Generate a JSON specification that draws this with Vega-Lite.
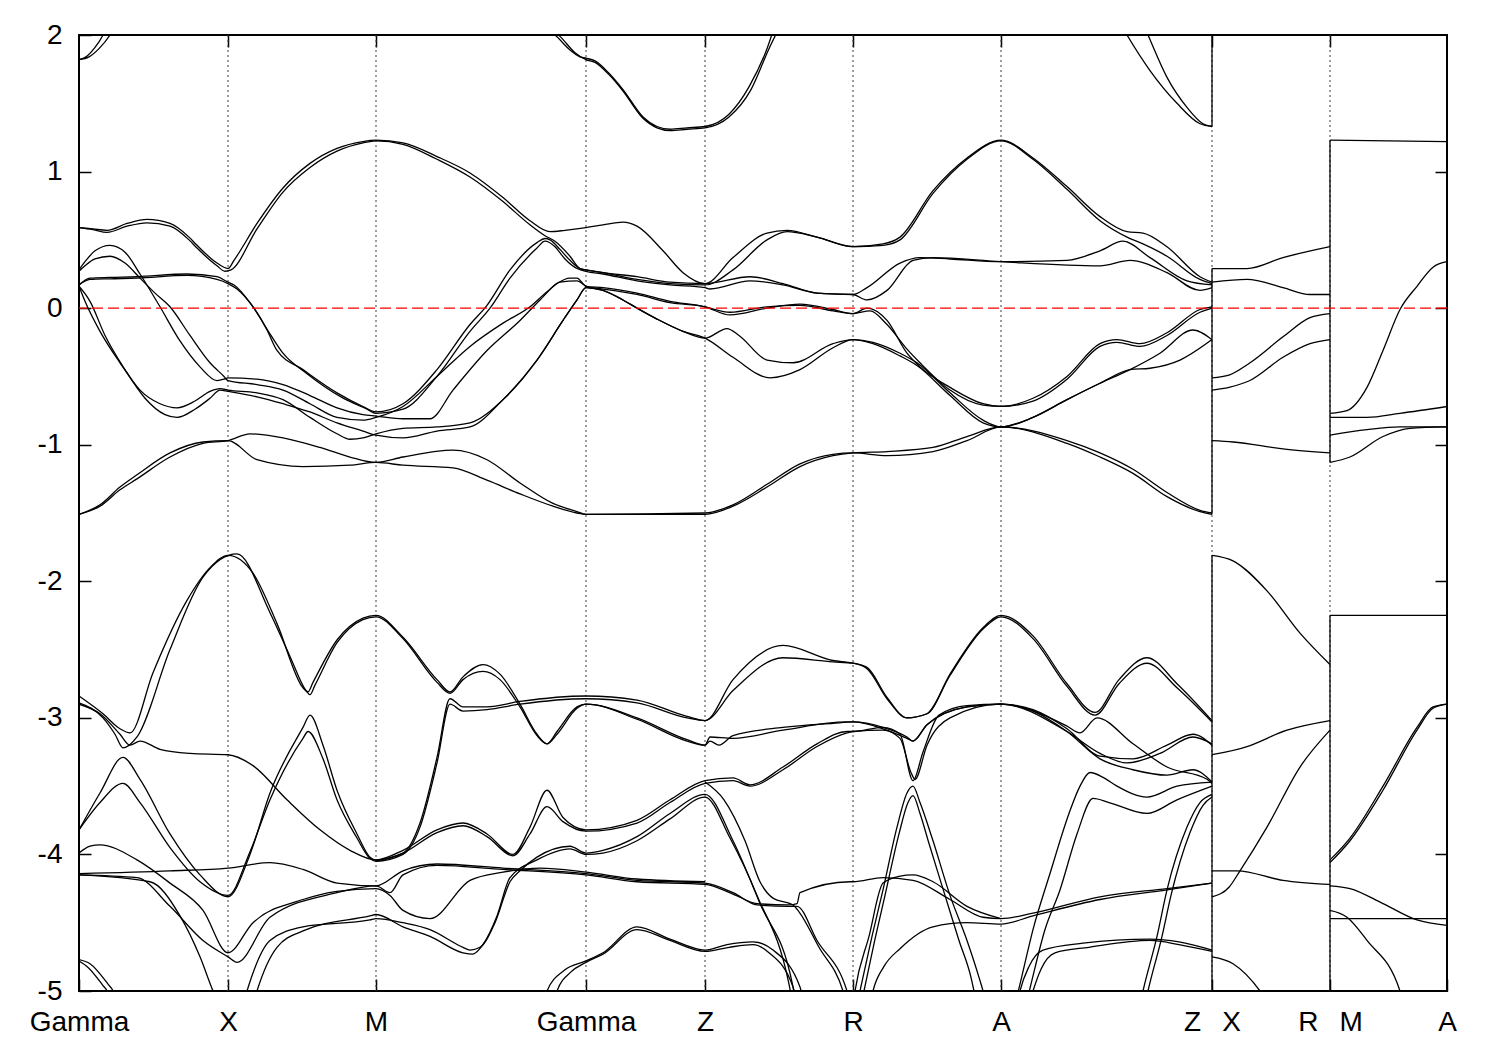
{
"$schema":"https://vega.github.io/schema/vega-lite/v6.json",
"width":1368,"height":956,"autosize":"none",
"padding":{"left":79,"top":35,"right":53,"bottom":59},
"config":{"font":"Liberation Sans","view":{"stroke":"black","strokeWidth":2}},
"datasets":{
"sym":[{"k":1.49},{"k":2.97},{"k":5.07},{"k":6.26},{"k":7.74},{"k":9.22},{"k":11.33},{"k":12.51}],
"jumps":[{"k":11.33,"y":2,"y2":1.33},{"k":11.33,"y":0.29,"y2":-1.51},{"k":11.33,"y":-1.81,"y2":-5},{"k":12.51,"y":1.23,"y2":-1.13},{"k":12.51,"y":-2.25,"y2":-5}],
"bands":[
{"b":"u1a","k":0,"e":1.82},{"b":"u1a","k":0.07,"e":1.84},{"b":"u1a","k":0.15,"e":1.9},{"b":"u1a","k":0.24,"e":2.0},{"b":"u1a","k":0.27,"e":2.05},
{"b":"u1b","k":0,"e":1.82},{"b":"u1b","k":0.1,"e":1.84},{"b":"u1b","k":0.2,"e":1.9},{"b":"u1b","k":0.31,"e":2.0},{"b":"u1b","k":0.35,"e":2.05},
{"b":"u2a","k":4.66,"e":2.05},{"b":"u2a","k":4.76,"e":2.0},{"b":"u2a","k":4.91,"e":1.89},{"b":"u2a","k":5.01,"e":1.84},{"b":"u2a","k":5.07,"e":1.83},{"b":"u2a","k":5.16,"e":1.81},{"b":"u2a","k":5.3,"e":1.72},{"b":"u2a","k":5.44,"e":1.6},{"b":"u2a","k":5.64,"e":1.4},{"b":"u2a","k":5.78,"e":1.33},{"b":"u2a","k":5.91,"e":1.31},{"b":"u2a","k":6.08,"e":1.32},{"b":"u2a","k":6.26,"e":1.33},{"b":"u2a","k":6.5,"e":1.42},{"b":"u2a","k":6.7,"e":1.62},{"b":"u2a","k":6.88,"e":1.9},{"b":"u2a","k":6.95,"e":2.05},
{"b":"u2b","k":4.71,"e":2.05},{"b":"u2b","k":4.81,"e":1.99},{"b":"u2b","k":4.96,"e":1.87},{"b":"u2b","k":5.07,"e":1.82},{"b":"u2b","k":5.16,"e":1.8},{"b":"u2b","k":5.3,"e":1.71},{"b":"u2b","k":5.44,"e":1.59},{"b":"u2b","k":5.64,"e":1.39},{"b":"u2b","k":5.78,"e":1.32},{"b":"u2b","k":5.91,"e":1.3},{"b":"u2b","k":6.08,"e":1.31},{"b":"u2b","k":6.26,"e":1.32},{"b":"u2b","k":6.5,"e":1.4},{"b":"u2b","k":6.72,"e":1.6},{"b":"u2b","k":6.9,"e":1.9},{"b":"u2b","k":7.0,"e":2.05},
{"b":"u3a","k":10.44,"e":2.05},{"b":"u3a","k":10.48,"e":2.0},{"b":"u3a","k":10.71,"e":1.74},{"b":"u3a","k":10.98,"e":1.5},{"b":"u3a","k":11.21,"e":1.35},{"b":"u3a","k":11.33,"e":1.33},
{"b":"u3b","k":10.66,"e":2.05},{"b":"u3b","k":10.69,"e":2.0},{"b":"u3b","k":10.88,"e":1.69},{"b":"u3b","k":11.08,"e":1.47},{"b":"u3b","k":11.24,"e":1.35},{"b":"u3b","k":11.33,"e":1.33},
{"b":"u4a","k":0,"e":0.59},{"b":"u4a","k":0.14,"e":0.58},{"b":"u4a","k":0.28,"e":0.57},{"b":"u4a","k":0.48,"e":0.62},{"b":"u4a","k":0.68,"e":0.65},{"b":"u4a","k":0.91,"e":0.62},{"b":"u4a","k":1.1,"e":0.52},{"b":"u4a","k":1.18,"e":0.46},{"b":"u4a","k":1.38,"e":0.33},{"b":"u4a","k":1.49,"e":0.29},{"b":"u4a","k":1.55,"e":0.35},{"b":"u4a","k":1.78,"e":0.62},{"b":"u4a","k":2.04,"e":0.88},{"b":"u4a","k":2.31,"e":1.06},{"b":"u4a","k":2.58,"e":1.17},{"b":"u4a","k":2.84,"e":1.22},{"b":"u4a","k":2.97,"e":1.23},{"b":"u4a","k":3.24,"e":1.21},{"b":"u4a","k":3.58,"e":1.11},{"b":"u4a","k":3.91,"e":0.99},{"b":"u4a","k":4.24,"e":0.81},{"b":"u4a","k":4.51,"e":0.64},{"b":"u4a","k":4.71,"e":0.56},{"b":"u4a","k":4.86,"e":0.57},{"b":"u4a","k":5.07,"e":0.59},{"b":"u4a","k":5.24,"e":0.61},{"b":"u4a","k":5.44,"e":0.63},{"b":"u4a","k":5.58,"e":0.6},{"b":"u4a","k":5.84,"e":0.42},{"b":"u4a","k":6.04,"e":0.26},{"b":"u4a","k":6.26,"e":0.18},{"b":"u4a","k":6.54,"e":0.37},{"b":"u4a","k":6.88,"e":0.55},{"b":"u4a","k":7.08,"e":0.57},{"b":"u4a","k":7.38,"e":0.52},{"b":"u4a","k":7.74,"e":0.45},{"b":"u4a","k":8.04,"e":0.47},{"b":"u4a","k":8.21,"e":0.52},{"b":"u4a","k":8.54,"e":0.86},{"b":"u4a","k":8.88,"e":1.1},{"b":"u4a","k":9.22,"e":1.23},{"b":"u4a","k":9.54,"e":1.1},{"b":"u4a","k":9.88,"e":0.89},{"b":"u4a","k":10.21,"e":0.67},{"b":"u4a","k":10.48,"e":0.56},{"b":"u4a","k":10.64,"e":0.55},{"b":"u4a","k":10.88,"e":0.45},{"b":"u4a","k":11.21,"e":0.23},{"b":"u4a","k":11.33,"e":0.19},
{"b":"u4b","k":0,"e":0.59},{"b":"u4b","k":0.14,"e":0.575},{"b":"u4b","k":0.28,"e":0.555},{"b":"u4b","k":0.48,"e":0.6},{"b":"u4b","k":0.68,"e":0.625},{"b":"u4b","k":0.91,"e":0.6},{"b":"u4b","k":1.1,"e":0.5},{"b":"u4b","k":1.18,"e":0.44},{"b":"u4b","k":1.38,"e":0.31},{"b":"u4b","k":1.46,"e":0.27},{"b":"u4b","k":1.52,"e":0.28},{"b":"u4b","k":1.78,"e":0.58},{"b":"u4b","k":2.04,"e":0.85},{"b":"u4b","k":2.31,"e":1.03},{"b":"u4b","k":2.58,"e":1.15},{"b":"u4b","k":2.84,"e":1.21},{"b":"u4b","k":2.97,"e":1.225},{"b":"u4b","k":3.24,"e":1.2},{"b":"u4b","k":3.58,"e":1.09},{"b":"u4b","k":3.91,"e":0.96},{"b":"u4b","k":4.24,"e":0.78},{"b":"u4b","k":4.51,"e":0.61},{"b":"u4b","k":4.66,"e":0.53},{"b":"u4b","k":4.76,"e":0.49},{"b":"u4b","k":4.91,"e":0.38},{"b":"u4b","k":5.01,"e":0.29},{"b":"u4b","k":5.07,"e":0.28},{"b":"u4b","k":5.24,"e":0.26},{"b":"u4b","k":5.58,"e":0.21},{"b":"u4b","k":5.91,"e":0.18},{"b":"u4b","k":6.26,"e":0.17},{"b":"u4b","k":6.54,"e":0.28},{"b":"u4b","k":6.88,"e":0.5},{"b":"u4b","k":7.08,"e":0.56},{"b":"u4b","k":7.38,"e":0.52},{"b":"u4b","k":7.74,"e":0.45},{"b":"u4b","k":8.04,"e":0.46},{"b":"u4b","k":8.21,"e":0.5},{"b":"u4b","k":8.54,"e":0.84},{"b":"u4b","k":8.88,"e":1.09},{"b":"u4b","k":9.22,"e":1.225},{"b":"u4b","k":9.54,"e":1.09},{"b":"u4b","k":9.88,"e":0.87},{"b":"u4b","k":10.21,"e":0.64},{"b":"u4b","k":10.48,"e":0.52},{"b":"u4b","k":10.64,"e":0.47},{"b":"u4b","k":10.88,"e":0.38},{"b":"u4b","k":11.21,"e":0.21},{"b":"u4b","k":11.33,"e":0.18},
{"b":"D1","k":0,"e":0.17},{"b":"D1","k":0.11,"e":0.22},{"b":"D1","k":0.31,"e":0.225},{"b":"D1","k":0.58,"e":0.23},{"b":"D1","k":1.08,"e":0.25},{"b":"D1","k":1.38,"e":0.23},{"b":"D1","k":1.49,"e":0.19},{"b":"D1","k":1.55,"e":0.17},{"b":"D1","k":1.71,"e":0.04},{"b":"D1","k":1.88,"e":-0.16},{"b":"D1","k":1.98,"e":-0.31},{"b":"D1","k":2.24,"e":-0.45},{"b":"D1","k":2.58,"e":-0.62},{"b":"D1","k":2.84,"e":-0.72},{"b":"D1","k":2.97,"e":-0.76},{"b":"D1","k":3.24,"e":-0.7},{"b":"D1","k":3.58,"e":-0.45},{"b":"D1","k":3.91,"e":-0.12},{"b":"D1","k":4.08,"e":0.02},{"b":"D1","k":4.31,"e":0.28},{"b":"D1","k":4.58,"e":0.48},{"b":"D1","k":4.66,"e":0.51},{"b":"D1","k":4.71,"e":0.5},{"b":"D1","k":4.81,"e":0.43},{"b":"D1","k":4.91,"e":0.35},{"b":"D1","k":5.01,"e":0.29},{"b":"D1","k":5.07,"e":0.28},{"b":"D1","k":5.24,"e":0.26},{"b":"D1","k":5.58,"e":0.23},{"b":"D1","k":5.91,"e":0.19},{"b":"D1","k":6.26,"e":0.18},{"b":"D1","k":6.71,"e":0.23},{"b":"D1","k":7.04,"e":0.18},{"b":"D1","k":7.38,"e":0.11},{"b":"D1","k":7.74,"e":0.1},{"b":"D1","k":7.88,"e":0.15},{"b":"D1","k":8.21,"e":0.33},{"b":"D1","k":8.41,"e":0.37},{"b":"D1","k":8.71,"e":0.36},{"b":"D1","k":9.22,"e":0.34},{"b":"D1","k":9.88,"e":0.35},{"b":"D1","k":10.21,"e":0.42},{"b":"D1","k":10.44,"e":0.49},{"b":"D1","k":10.71,"e":0.37},{"b":"D1","k":11.08,"e":0.2},{"b":"D1","k":11.33,"e":0.17},
{"b":"D2","k":0,"e":0.17},{"b":"D2","k":0.11,"e":0.21},{"b":"D2","k":0.31,"e":0.215},{"b":"D2","k":0.58,"e":0.22},{"b":"D2","k":1.08,"e":0.24},{"b":"D2","k":1.38,"e":0.21},{"b":"D2","k":1.49,"e":0.18},{"b":"D2","k":1.58,"e":0.14},{"b":"D2","k":1.75,"e":0.0},{"b":"D2","k":1.92,"e":-0.2},{"b":"D2","k":2.04,"e":-0.33},{"b":"D2","k":2.28,"e":-0.48},{"b":"D2","k":2.62,"e":-0.65},{"b":"D2","k":2.88,"e":-0.74},{"b":"D2","k":2.97,"e":-0.77},{"b":"D2","k":3.24,"e":-0.74},{"b":"D2","k":3.58,"e":-0.5},{"b":"D2","k":3.91,"e":-0.17},{"b":"D2","k":4.11,"e":0.0},{"b":"D2","k":4.31,"e":0.22},{"b":"D2","k":4.58,"e":0.44},{"b":"D2","k":4.66,"e":0.49},{"b":"D2","k":4.76,"e":0.45},{"b":"D2","k":4.86,"e":0.36},{"b":"D2","k":4.98,"e":0.29},{"b":"D2","k":5.07,"e":0.27},{"b":"D2","k":5.24,"e":0.25},{"b":"D2","k":5.58,"e":0.2},{"b":"D2","k":5.91,"e":0.17},{"b":"D2","k":6.26,"e":0.15},{"b":"D2","k":6.31,"e":0.14},{"b":"D2","k":6.71,"e":0.2},{"b":"D2","k":7.04,"e":0.17},{"b":"D2","k":7.38,"e":0.11},{"b":"D2","k":7.74,"e":0.1},{"b":"D2","k":7.88,"e":0.06},{"b":"D2","k":8.08,"e":0.13},{"b":"D2","k":8.34,"e":0.35},{"b":"D2","k":8.54,"e":0.37},{"b":"D2","k":9.22,"e":0.34},{"b":"D2","k":10.21,"e":0.31},{"b":"D2","k":10.51,"e":0.35},{"b":"D2","k":10.88,"e":0.26},{"b":"D2","k":11.21,"e":0.13},{"b":"D2","k":11.33,"e":0.15},
{"b":"B1","k":0,"e":0.28},{"b":"B1","k":0.06,"e":0.34},{"b":"B1","k":0.16,"e":0.42},{"b":"B1","k":0.31,"e":0.46},{"b":"B1","k":0.46,"e":0.41},{"b":"B1","k":0.61,"e":0.25},{"b":"B1","k":0.81,"e":0.01},{"b":"B1","k":1.01,"e":-0.24},{"b":"B1","k":1.21,"e":-0.43},{"b":"B1","k":1.38,"e":-0.53},{"b":"B1","k":1.45,"e":-0.52},{"b":"B1","k":1.49,"e":-0.51},{"b":"B1","k":1.78,"e":-0.52},{"b":"B1","k":2.04,"e":-0.56},{"b":"B1","k":2.31,"e":-0.64},{"b":"B1","k":2.58,"e":-0.73},{"b":"B1","k":2.84,"e":-0.78},{"b":"B1","k":2.97,"e":-0.79},{"b":"B1","k":3.24,"e":-0.81},{"b":"B1","k":3.51,"e":-0.81},{"b":"B1","k":3.74,"e":-0.6},{"b":"B1","k":4.08,"e":-0.31},{"b":"B1","k":4.41,"e":-0.09},{"b":"B1","k":4.61,"e":0.06},{"b":"B1","k":4.78,"e":0.18},{"b":"B1","k":4.91,"e":0.22},{"b":"B1","k":4.98,"e":0.22},{"b":"B1","k":5.07,"e":0.16},{"b":"B1","k":5.24,"e":0.15},{"b":"B1","k":5.58,"e":0.11},{"b":"B1","k":5.91,"e":0.05},{"b":"B1","k":6.26,"e":0.01},{"b":"B1","k":6.51,"e":-0.05},{"b":"B1","k":6.88,"e":0.0},{"b":"B1","k":7.21,"e":0.03},{"b":"B1","k":7.54,"e":-0.01},{"b":"B1","k":7.74,"e":-0.04},{"b":"B1","k":7.88,"e":0.0},{"b":"B1","k":8.08,"e":-0.09},{"b":"B1","k":8.28,"e":-0.33},{"b":"B1","k":8.41,"e":-0.43},{"b":"B1","k":8.71,"e":-0.58},{"b":"B1","k":9.04,"e":-0.7},{"b":"B1","k":9.22,"e":-0.72},{"b":"B1","k":9.54,"e":-0.66},{"b":"B1","k":9.88,"e":-0.5},{"b":"B1","k":10.21,"e":-0.26},{"b":"B1","k":10.38,"e":-0.23},{"b":"B1","k":10.61,"e":-0.26},{"b":"B1","k":10.88,"e":-0.18},{"b":"B1","k":11.21,"e":-0.01},{"b":"B1","k":11.33,"e":0.01},
{"b":"B2","k":0,"e":0.27},{"b":"B2","k":0.06,"e":0.31},{"b":"B2","k":0.16,"e":0.36},{"b":"B2","k":0.31,"e":0.38},{"b":"B2","k":0.46,"e":0.33},{"b":"B2","k":0.61,"e":0.22},{"b":"B2","k":0.76,"e":0.11},{"b":"B2","k":0.91,"e":0.01},{"b":"B2","k":1.11,"e":-0.2},{"b":"B2","k":1.31,"e":-0.4},{"b":"B2","k":1.45,"e":-0.5},{"b":"B2","k":1.49,"e":-0.53},{"b":"B2","k":1.78,"e":-0.56},{"b":"B2","k":2.04,"e":-0.6},{"b":"B2","k":2.31,"e":-0.7},{"b":"B2","k":2.58,"e":-0.8},{"b":"B2","k":2.84,"e":-0.82},{"b":"B2","k":2.97,"e":-0.8},{"b":"B2","k":3.24,"e":-0.72},{"b":"B2","k":3.58,"e":-0.5},{"b":"B2","k":3.91,"e":-0.28},{"b":"B2","k":4.24,"e":-0.11},{"b":"B2","k":4.51,"e":0.01},{"b":"B2","k":4.68,"e":0.12},{"b":"B2","k":4.81,"e":0.19},{"b":"B2","k":4.98,"e":0.2},{"b":"B2","k":5.07,"e":0.16},{"b":"B2","k":5.24,"e":0.13},{"b":"B2","k":5.44,"e":0.06},{"b":"B2","k":5.58,"e":0.0},{"b":"B2","k":5.78,"e":-0.08},{"b":"B2","k":6.04,"e":-0.17},{"b":"B2","k":6.26,"e":-0.22},{"b":"B2","k":6.48,"e":-0.15},{"b":"B2","k":6.6,"e":-0.2},{"b":"B2","k":6.88,"e":-0.38},{"b":"B2","k":7.14,"e":-0.4},{"b":"B2","k":7.54,"e":-0.26},{"b":"B2","k":7.74,"e":-0.23},{"b":"B2","k":7.94,"e":-0.25},{"b":"B2","k":8.21,"e":-0.33},{"b":"B2","k":8.38,"e":-0.4},{"b":"B2","k":8.71,"e":-0.62},{"b":"B2","k":9.04,"e":-0.82},{"b":"B2","k":9.22,"e":-0.87},{"b":"B2","k":9.54,"e":-0.8},{"b":"B2","k":9.88,"e":-0.67},{"b":"B2","k":10.21,"e":-0.55},{"b":"B2","k":10.51,"e":-0.45},{"b":"B2","k":10.71,"e":-0.44},{"b":"B2","k":11.01,"e":-0.38},{"b":"B2","k":11.33,"e":-0.23},
{"b":"C1","k":0,"e":0.16},{"b":"C1","k":0.06,"e":0.05},{"b":"C1","k":0.21,"e":-0.17},{"b":"C1","k":0.41,"e":-0.4},{"b":"C1","k":0.61,"e":-0.6},{"b":"C1","k":0.81,"e":-0.7},{"b":"C1","k":0.98,"e":-0.73},{"b":"C1","k":1.16,"e":-0.68},{"b":"C1","k":1.31,"e":-0.61},{"b":"C1","k":1.41,"e":-0.59},{"b":"C1","k":1.49,"e":-0.6},{"b":"C1","k":1.78,"e":-0.62},{"b":"C1","k":2.04,"e":-0.67},{"b":"C1","k":2.31,"e":-0.8},{"b":"C1","k":2.58,"e":-0.92},{"b":"C1","k":2.71,"e":-0.96},{"b":"C1","k":2.84,"e":-0.95},{"b":"C1","k":2.97,"e":-0.92},{"b":"C1","k":3.24,"e":-0.88},{"b":"C1","k":3.58,"e":-0.87},{"b":"C1","k":3.91,"e":-0.84},{"b":"C1","k":4.24,"e":-0.67},{"b":"C1","k":4.58,"e":-0.38},{"b":"C1","k":4.84,"e":-0.09},{"b":"C1","k":4.98,"e":0.06},{"b":"C1","k":5.07,"e":0.15},{"b":"C1","k":5.24,"e":0.14},{"b":"C1","k":5.58,"e":0.1},{"b":"C1","k":5.91,"e":0.04},{"b":"C1","k":6.26,"e":0.01},{"b":"C1","k":6.31,"e":0.0},{"b":"C1","k":6.51,"e":-0.03},{"b":"C1","k":6.88,"e":0.01},{"b":"C1","k":7.21,"e":0.02},{"b":"C1","k":7.54,"e":-0.02},{"b":"C1","k":7.74,"e":-0.04},{"b":"C1","k":7.91,"e":-0.02},{"b":"C1","k":8.08,"e":-0.12},{"b":"C1","k":8.28,"e":-0.3},{"b":"C1","k":8.41,"e":-0.4},{"b":"C1","k":8.71,"e":-0.6},{"b":"C1","k":9.04,"e":-0.71},{"b":"C1","k":9.22,"e":-0.72},{"b":"C1","k":9.54,"e":-0.68},{"b":"C1","k":9.88,"e":-0.52},{"b":"C1","k":10.21,"e":-0.28},{"b":"C1","k":10.38,"e":-0.25},{"b":"C1","k":10.61,"e":-0.28},{"b":"C1","k":10.88,"e":-0.2},{"b":"C1","k":11.21,"e":-0.03},{"b":"C1","k":11.33,"e":0.0},
{"b":"C2","k":0,"e":0.16},{"b":"C2","k":0.11,"e":0.05},{"b":"C2","k":0.26,"e":-0.2},{"b":"C2","k":0.46,"e":-0.45},{"b":"C2","k":0.66,"e":-0.66},{"b":"C2","k":0.86,"e":-0.78},{"b":"C2","k":0.98,"e":-0.8},{"b":"C2","k":1.16,"e":-0.74},{"b":"C2","k":1.31,"e":-0.66},{"b":"C2","k":1.41,"e":-0.6},{"b":"C2","k":1.49,"e":-0.61},{"b":"C2","k":1.78,"e":-0.65},{"b":"C2","k":2.04,"e":-0.7},{"b":"C2","k":2.31,"e":-0.76},{"b":"C2","k":2.58,"e":-0.84},{"b":"C2","k":2.84,"e":-0.9},{"b":"C2","k":2.97,"e":-0.93},{"b":"C2","k":3.24,"e":-0.95},{"b":"C2","k":3.58,"e":-0.9},{"b":"C2","k":3.91,"e":-0.87},{"b":"C2","k":4.24,"e":-0.67},{"b":"C2","k":4.58,"e":-0.38},{"b":"C2","k":4.84,"e":-0.09},{"b":"C2","k":4.98,"e":0.06},{"b":"C2","k":5.07,"e":0.15},{"b":"C2","k":5.24,"e":0.13},{"b":"C2","k":5.44,"e":0.06},{"b":"C2","k":5.58,"e":0.0},{"b":"C2","k":5.78,"e":-0.08},{"b":"C2","k":6.04,"e":-0.17},{"b":"C2","k":6.26,"e":-0.22},{"b":"C2","k":6.54,"e":-0.36},{"b":"C2","k":6.91,"e":-0.51},{"b":"C2","k":7.21,"e":-0.45},{"b":"C2","k":7.54,"e":-0.29},{"b":"C2","k":7.74,"e":-0.23},{"b":"C2","k":7.94,"e":-0.26},{"b":"C2","k":8.21,"e":-0.35},{"b":"C2","k":8.38,"e":-0.42},{"b":"C2","k":8.71,"e":-0.64},{"b":"C2","k":9.04,"e":-0.84},{"b":"C2","k":9.22,"e":-0.87},{"b":"C2","k":9.54,"e":-0.8},{"b":"C2","k":9.88,"e":-0.67},{"b":"C2","k":10.21,"e":-0.55},{"b":"C2","k":10.51,"e":-0.45},{"b":"C2","k":10.81,"e":-0.33},{"b":"C2","k":11.14,"e":-0.16},{"b":"C2","k":11.33,"e":-0.23},
{"b":"v1","k":0,"e":-1.51},{"b":"v1","k":0.21,"e":-1.45},{"b":"v1","k":0.41,"e":-1.33},{"b":"v1","k":0.58,"e":-1.25},{"b":"v1","k":0.91,"e":-1.09},{"b":"v1","k":1.24,"e":-0.99},{"b":"v1","k":1.49,"e":-0.97},{"b":"v1","k":1.71,"e":-0.92},{"b":"v1","k":2.04,"e":-0.95},{"b":"v1","k":2.41,"e":-1.02},{"b":"v1","k":2.71,"e":-1.09},{"b":"v1","k":2.97,"e":-1.13},{"b":"v1","k":3.24,"e":-1.09},{"b":"v1","k":3.74,"e":-1.04},{"b":"v1","k":4.08,"e":-1.11},{"b":"v1","k":4.41,"e":-1.28},{"b":"v1","k":4.74,"e":-1.43},{"b":"v1","k":4.98,"e":-1.49},{"b":"v1","k":5.07,"e":-1.51},{"b":"v1","k":6.26,"e":-1.51},{"b":"v1","k":6.54,"e":-1.45},{"b":"v1","k":6.88,"e":-1.31},{"b":"v1","k":7.21,"e":-1.16},{"b":"v1","k":7.54,"e":-1.08},{"b":"v1","k":7.74,"e":-1.06},{"b":"v1","k":8.08,"e":-1.05},{"b":"v1","k":8.54,"e":-1.02},{"b":"v1","k":8.88,"e":-0.94},{"b":"v1","k":9.22,"e":-0.87},{"b":"v1","k":9.88,"e":-0.99},{"b":"v1","k":10.21,"e":-1.09},{"b":"v1","k":10.54,"e":-1.21},{"b":"v1","k":10.88,"e":-1.38},{"b":"v1","k":11.21,"e":-1.49},{"b":"v1","k":11.33,"e":-1.51},
{"b":"v2","k":0,"e":-1.51},{"b":"v2","k":0.21,"e":-1.44},{"b":"v2","k":0.41,"e":-1.31},{"b":"v2","k":0.58,"e":-1.22},{"b":"v2","k":0.91,"e":-1.06},{"b":"v2","k":1.24,"e":-0.98},{"b":"v2","k":1.49,"e":-0.97},{"b":"v2","k":1.78,"e":-1.11},{"b":"v2","k":2.24,"e":-1.16},{"b":"v2","k":2.71,"e":-1.15},{"b":"v2","k":2.97,"e":-1.13},{"b":"v2","k":3.24,"e":-1.15},{"b":"v2","k":3.74,"e":-1.17},{"b":"v2","k":4.08,"e":-1.26},{"b":"v2","k":4.41,"e":-1.36},{"b":"v2","k":4.74,"e":-1.45},{"b":"v2","k":4.98,"e":-1.5},{"b":"v2","k":5.07,"e":-1.51},{"b":"v2","k":6.26,"e":-1.5},{"b":"v2","k":6.54,"e":-1.44},{"b":"v2","k":6.88,"e":-1.29},{"b":"v2","k":7.21,"e":-1.14},{"b":"v2","k":7.54,"e":-1.07},{"b":"v2","k":7.74,"e":-1.06},{"b":"v2","k":8.08,"e":-1.08},{"b":"v2","k":8.54,"e":-1.05},{"b":"v2","k":8.88,"e":-0.97},{"b":"v2","k":9.22,"e":-0.87},{"b":"v2","k":9.88,"e":-0.97},{"b":"v2","k":10.21,"e":-1.06},{"b":"v2","k":10.54,"e":-1.18},{"b":"v2","k":10.88,"e":-1.35},{"b":"v2","k":11.21,"e":-1.48},{"b":"v2","k":11.33,"e":-1.5},
{"b":"xr1","k":11.33,"e":0.29},{"b":"xr1","k":11.68,"e":0.29},{"b":"xr1","k":12.04,"e":0.37},{"b":"xr1","k":12.51,"e":0.45},
{"b":"xr2","k":11.33,"e":0.19},{"b":"xr2","k":11.68,"e":0.21},{"b":"xr2","k":12.04,"e":0.15},{"b":"xr2","k":12.31,"e":0.1},{"b":"xr2","k":12.51,"e":0.1},
{"b":"xr3","k":11.33,"e":-0.51},{"b":"xr3","k":11.5,"e":-0.49},{"b":"xr3","k":11.71,"e":-0.4},{"b":"xr3","k":12.04,"e":-0.21},{"b":"xr3","k":12.31,"e":-0.07},{"b":"xr3","k":12.51,"e":-0.04},
{"b":"xr4","k":11.33,"e":-0.6},{"b":"xr4","k":11.5,"e":-0.58},{"b":"xr4","k":11.71,"e":-0.53},{"b":"xr4","k":12.04,"e":-0.36},{"b":"xr4","k":12.31,"e":-0.26},{"b":"xr4","k":12.51,"e":-0.23},
{"b":"xr5","k":11.33,"e":-0.97},{"b":"xr5","k":11.54,"e":-0.98},{"b":"xr5","k":12.04,"e":-1.03},{"b":"xr5","k":12.51,"e":-1.06},
{"b":"xr6","k":11.33,"e":-1.81},{"b":"xr6","k":11.54,"e":-1.85},{"b":"xr6","k":11.88,"e":-2.07},{"b":"xr6","k":12.21,"e":-2.38},{"b":"xr6","k":12.51,"e":-2.61},
{"b":"xr7","k":11.33,"e":-3.27},{"b":"xr7","k":11.68,"e":-3.21},{"b":"xr7","k":12.08,"e":-3.09},{"b":"xr7","k":12.51,"e":-3.02},
{"b":"xr8","k":11.33,"e":-4.31},{"b":"xr8","k":11.5,"e":-4.24},{"b":"xr8","k":11.61,"e":-4.12},{"b":"xr8","k":11.88,"e":-3.8},{"b":"xr8","k":12.21,"e":-3.36},{"b":"xr8","k":12.51,"e":-3.09},
{"b":"xr9","k":11.33,"e":-4.12},{"b":"xr9","k":11.58,"e":-4.12},{"b":"xr9","k":12.04,"e":-4.19},{"b":"xr9","k":12.51,"e":-4.22},
{"b":"xr10","k":11.33,"e":-4.75},{"b":"xr10","k":11.54,"e":-4.8},{"b":"xr10","k":11.81,"e":-5.0},{"b":"xr10","k":11.9,"e":-5.1},
{"b":"ma1","k":12.51,"e":1.23},{"b":"ma1","k":13.68,"e":1.22},
{"b":"ma2","k":12.51,"e":-0.77},{"b":"ma2","k":12.68,"e":-0.75},{"b":"ma2","k":12.88,"e":-0.58},{"b":"ma2","k":13.04,"e":-0.31},{"b":"ma2","k":13.21,"e":-0.01},{"b":"ma2","k":13.38,"e":0.16},{"b":"ma2","k":13.54,"e":0.3},{"b":"ma2","k":13.68,"e":0.34},
{"b":"ma3","k":12.51,"e":-0.8},{"b":"ma3","k":12.88,"e":-0.8},{"b":"ma3","k":13.21,"e":-0.77},{"b":"ma3","k":13.68,"e":-0.72},
{"b":"ma4","k":12.51,"e":-0.93},{"b":"ma4","k":12.88,"e":-0.89},{"b":"ma4","k":13.21,"e":-0.87},{"b":"ma4","k":13.68,"e":-0.87},
{"b":"ma5","k":12.51,"e":-1.13},{"b":"ma5","k":12.71,"e":-1.09},{"b":"ma5","k":13.04,"e":-0.94},{"b":"ma5","k":13.31,"e":-0.88},{"b":"ma5","k":13.68,"e":-0.87},
{"b":"ma6","k":12.51,"e":-2.25},{"b":"ma6","k":13.68,"e":-2.25},
{"b":"ma7","k":12.51,"e":-4.06},{"b":"ma7","k":12.71,"e":-3.9},{"b":"ma7","k":13.04,"e":-3.53},{"b":"ma7","k":13.38,"e":-3.09},{"b":"ma7","k":13.54,"e":-2.93},{"b":"ma7","k":13.68,"e":-2.9},
{"b":"ma7b","k":12.51,"e":-4.04},{"b":"ma7b","k":12.71,"e":-3.88},{"b":"ma7b","k":13.04,"e":-3.5},{"b":"ma7b","k":13.38,"e":-3.07},{"b":"ma7b","k":13.54,"e":-2.92},{"b":"ma7b","k":13.68,"e":-2.9},
{"b":"ma8","k":12.51,"e":-4.23},{"b":"ma8","k":12.71,"e":-4.25},{"b":"ma8","k":13.04,"e":-4.36},{"b":"ma8","k":13.38,"e":-4.48},{"b":"ma8","k":13.68,"e":-4.52},
{"b":"ma9","k":12.51,"e":-4.47},{"b":"ma9","k":13.68,"e":-4.47},
{"b":"ma10","k":12.51,"e":-4.41},{"b":"ma10","k":12.68,"e":-4.46},{"b":"ma10","k":12.88,"e":-4.63},{"b":"ma10","k":13.21,"e":-5.0},{"b":"ma10","k":13.25,"e":-5.1},
{"b":"w1","k":0,"e":-2.84},{"b":"w1","k":0.24,"e":-2.97},{"b":"w1","k":0.41,"e":-3.08},{"b":"w1","k":0.51,"e":-3.11},{"b":"w1","k":0.74,"e":-2.67},{"b":"w1","k":1.08,"e":-2.14},{"b":"w1","k":1.31,"e":-1.9},{"b":"w1","k":1.49,"e":-1.81},{"b":"w1","k":1.74,"e":-1.94},{"b":"w1","k":1.98,"e":-2.31},{"b":"w1","k":2.24,"e":-2.78},{"b":"w1","k":2.29,"e":-2.81},{"b":"w1","k":2.34,"e":-2.74},{"b":"w1","k":2.58,"e":-2.43},{"b":"w1","k":2.84,"e":-2.27},{"b":"w1","k":2.97,"e":-2.25},{"b":"w1","k":3.24,"e":-2.41},{"b":"w1","k":3.58,"e":-2.72},{"b":"w1","k":3.71,"e":-2.81},{"b":"w1","k":3.84,"e":-2.7},{"b":"w1","k":4.04,"e":-2.61},{"b":"w1","k":4.21,"e":-2.68},{"b":"w1","k":4.41,"e":-2.9},{"b":"w1","k":4.58,"e":-3.12},{"b":"w1","k":4.68,"e":-3.19},{"b":"w1","k":4.78,"e":-3.1},{"b":"w1","k":4.98,"e":-2.92},{"b":"w1","k":5.07,"e":-2.9},{"b":"w1","k":5.58,"e":-3.0},{"b":"w1","k":6.08,"e":-3.16},{"b":"w1","k":6.26,"e":-3.2},{"b":"w1","k":6.31,"e":-3.14},{"b":"w1","k":6.54,"e":-3.15},{"b":"w1","k":7.04,"e":-3.09},{"b":"w1","k":7.68,"e":-3.03},{"b":"w1","k":7.74,"e":-3.03},{"b":"w1","k":8.04,"e":-3.07},{"b":"w1","k":8.28,"e":-3.14},{"b":"w1","k":8.34,"e":-3.17},{"b":"w1","k":8.48,"e":-3.05},{"b":"w1","k":8.88,"e":-2.92},{"b":"w1","k":9.22,"e":-2.9},{"b":"w1","k":9.88,"e":-3.06},{"b":"w1","k":10.01,"e":-3.11},{"b":"w1","k":10.18,"e":-3.0},{"b":"w1","k":10.54,"e":-3.19},{"b":"w1","k":10.88,"e":-3.36},{"b":"w1","k":11.28,"e":-3.45},{"b":"w1","k":11.33,"e":-3.48},
{"b":"w2","k":0,"e":-2.89},{"b":"w2","k":0.24,"e":-3.0},{"b":"w2","k":0.36,"e":-3.12},{"b":"w2","k":0.44,"e":-3.22},{"b":"w2","k":0.58,"e":-3.14},{"b":"w2","k":0.91,"e":-2.5},{"b":"w2","k":1.24,"e":-1.97},{"b":"w2","k":1.58,"e":-1.8},{"b":"w2","k":1.91,"e":-2.23},{"b":"w2","k":2.11,"e":-2.55},{"b":"w2","k":2.27,"e":-2.8},{"b":"w2","k":2.31,"e":-2.83},{"b":"w2","k":2.36,"e":-2.76},{"b":"w2","k":2.58,"e":-2.45},{"b":"w2","k":2.84,"e":-2.28},{"b":"w2","k":2.97,"e":-2.26},{"b":"w2","k":3.24,"e":-2.42},{"b":"w2","k":3.58,"e":-2.74},{"b":"w2","k":3.71,"e":-2.82},{"b":"w2","k":3.84,"e":-2.72},{"b":"w2","k":4.04,"e":-2.66},{"b":"w2","k":4.21,"e":-2.72},{"b":"w2","k":4.41,"e":-2.92},{"b":"w2","k":4.58,"e":-3.13},{"b":"w2","k":4.68,"e":-3.19},{"b":"w2","k":4.78,"e":-3.12},{"b":"w2","k":4.98,"e":-2.93},{"b":"w2","k":5.07,"e":-2.9},{"b":"w2","k":5.58,"e":-3.01},{"b":"w2","k":6.08,"e":-3.17},{"b":"w2","k":6.26,"e":-3.2},{"b":"w2","k":6.31,"e":-3.17},{"b":"w2","k":6.4,"e":-3.2},{"b":"w2","k":6.54,"e":-3.13},{"b":"w2","k":7.04,"e":-3.07},{"b":"w2","k":7.54,"e":-3.04},{"b":"w2","k":7.74,"e":-3.03},{"b":"w2","k":8.04,"e":-3.08},{"b":"w2","k":8.28,"e":-3.15},{"b":"w2","k":8.34,"e":-3.17},{"b":"w2","k":8.48,"e":-3.05},{"b":"w2","k":8.88,"e":-2.92},{"b":"w2","k":9.22,"e":-2.9},{"b":"w2","k":9.88,"e":-3.1},{"b":"w2","k":10.21,"e":-3.26},{"b":"w2","k":10.48,"e":-3.33},{"b":"w2","k":10.81,"e":-3.26},{"b":"w2","k":11.14,"e":-3.14},{"b":"w2","k":11.33,"e":-3.19},
{"b":"w3a","k":0,"e":-3.82},{"b":"w3a","k":0.21,"e":-3.55},{"b":"w3a","k":0.44,"e":-3.29},{"b":"w3a","k":0.61,"e":-3.45},{"b":"w3a","k":0.91,"e":-3.85},{"b":"w3a","k":1.21,"e":-4.15},{"b":"w3a","k":1.49,"e":-4.31},{"b":"w3a","k":1.71,"e":-4.0},{"b":"w3a","k":1.91,"e":-3.55},{"b":"w3a","k":2.24,"e":-3.07},{"b":"w3a","k":2.31,"e":-2.98},{"b":"w3a","k":2.44,"e":-3.2},{"b":"w3a","k":2.58,"e":-3.53},{"b":"w3a","k":2.78,"e":-3.85},{"b":"w3a","k":2.91,"e":-4.02},{"b":"w3a","k":2.97,"e":-4.04},{"b":"w3a","k":3.24,"e":-3.99},{"b":"w3a","k":3.41,"e":-3.77},{"b":"w3a","k":3.58,"e":-3.29},{"b":"w3a","k":3.71,"e":-2.86},{"b":"w3a","k":3.84,"e":-2.92},{"b":"w3a","k":4.08,"e":-2.92},{"b":"w3a","k":4.41,"e":-2.88},{"b":"w3a","k":5.07,"e":-2.84},{"b":"w3a","k":5.58,"e":-2.87},{"b":"w3a","k":6.08,"e":-2.99},{"b":"w3a","k":6.26,"e":-3.02},{"b":"w3a","k":6.54,"e":-2.72},{"b":"w3a","k":7.04,"e":-2.47},{"b":"w3a","k":7.54,"e":-2.58},{"b":"w3a","k":7.74,"e":-2.6},{"b":"w3a","k":7.88,"e":-2.63},{"b":"w3a","k":8.08,"e":-2.85},{"b":"w3a","k":8.28,"e":-3.0},{"b":"w3a","k":8.48,"e":-2.97},{"b":"w3a","k":8.71,"e":-2.68},{"b":"w3a","k":9.04,"e":-2.34},{"b":"w3a","k":9.22,"e":-2.25},{"b":"w3a","k":9.54,"e":-2.4},{"b":"w3a","k":9.88,"e":-2.75},{"b":"w3a","k":10.16,"e":-2.96},{"b":"w3a","k":10.4,"e":-2.72},{"b":"w3a","k":10.68,"e":-2.56},{"b":"w3a","k":10.98,"e":-2.75},{"b":"w3a","k":11.33,"e":-3.02},
{"b":"w3b","k":0,"e":-3.82},{"b":"w3b","k":0.21,"e":-3.62},{"b":"w3b","k":0.44,"e":-3.48},{"b":"w3b","k":0.61,"e":-3.62},{"b":"w3b","k":0.91,"e":-3.95},{"b":"w3b","k":1.21,"e":-4.2},{"b":"w3b","k":1.49,"e":-4.3},{"b":"w3b","k":1.71,"e":-3.98},{"b":"w3b","k":1.91,"e":-3.6},{"b":"w3b","k":2.24,"e":-3.15},{"b":"w3b","k":2.29,"e":-3.1},{"b":"w3b","k":2.44,"e":-3.3},{"b":"w3b","k":2.58,"e":-3.6},{"b":"w3b","k":2.78,"e":-3.88},{"b":"w3b","k":2.91,"e":-4.03},{"b":"w3b","k":2.97,"e":-4.05},{"b":"w3b","k":3.24,"e":-4.0},{"b":"w3b","k":3.41,"e":-3.8},{"b":"w3b","k":3.58,"e":-3.33},{"b":"w3b","k":3.71,"e":-2.9},{"b":"w3b","k":3.84,"e":-2.95},{"b":"w3b","k":4.08,"e":-2.94},{"b":"w3b","k":4.41,"e":-2.9},{"b":"w3b","k":5.07,"e":-2.86},{"b":"w3b","k":5.58,"e":-2.89},{"b":"w3b","k":6.08,"e":-3.0},{"b":"w3b","k":6.26,"e":-3.02},{"b":"w3b","k":6.54,"e":-2.8},{"b":"w3b","k":7.04,"e":-2.56},{"b":"w3b","k":7.54,"e":-2.59},{"b":"w3b","k":7.74,"e":-2.6},{"b":"w3b","k":7.88,"e":-2.64},{"b":"w3b","k":8.08,"e":-2.86},{"b":"w3b","k":8.28,"e":-3.0},{"b":"w3b","k":8.48,"e":-2.97},{"b":"w3b","k":8.71,"e":-2.69},{"b":"w3b","k":9.04,"e":-2.35},{"b":"w3b","k":9.22,"e":-2.26},{"b":"w3b","k":9.54,"e":-2.42},{"b":"w3b","k":9.88,"e":-2.77},{"b":"w3b","k":10.16,"e":-2.98},{"b":"w3b","k":10.4,"e":-2.75},{"b":"w3b","k":10.68,"e":-2.6},{"b":"w3b","k":10.98,"e":-2.78},{"b":"w3b","k":11.33,"e":-3.03},
{"b":"w4","k":0,"e":-2.9},{"b":"w4","k":0.21,"e":-2.97},{"b":"w4","k":0.41,"e":-3.12},{"b":"w4","k":0.51,"e":-3.2},{"b":"w4","k":0.61,"e":-3.17},{"b":"w4","k":0.81,"e":-3.23},{"b":"w4","k":1.11,"e":-3.26},{"b":"w4","k":1.49,"e":-3.27},{"b":"w4","k":1.74,"e":-3.35},{"b":"w4","k":2.08,"e":-3.6},{"b":"w4","k":2.41,"e":-3.82},{"b":"w4","k":2.71,"e":-3.97},{"b":"w4","k":2.97,"e":-4.04},{"b":"w4","k":3.24,"e":-3.97},{"b":"w4","k":3.58,"e":-3.82},{"b":"w4","k":3.84,"e":-3.77},{"b":"w4","k":4.08,"e":-3.85},{"b":"w4","k":4.34,"e":-4.0},{"b":"w4","k":4.51,"e":-3.8},{"b":"w4","k":4.68,"e":-3.53},{"b":"w4","k":4.84,"e":-3.73},{"b":"w4","k":5.07,"e":-3.82},{"b":"w4","k":5.58,"e":-3.75},{"b":"w4","k":5.91,"e":-3.6},{"b":"w4","k":6.26,"e":-3.46},{"b":"w4","k":6.54,"e":-3.44},{"b":"w4","k":6.71,"e":-3.49},{"b":"w4","k":7.04,"e":-3.36},{"b":"w4","k":7.38,"e":-3.19},{"b":"w4","k":7.68,"e":-3.1},{"b":"w4","k":7.74,"e":-3.1},{"b":"w4","k":8.04,"e":-3.07},{"b":"w4","k":8.21,"e":-3.12},{"b":"w4","k":8.34,"e":-3.46},{"b":"w4","k":8.44,"e":-3.25},{"b":"w4","k":8.6,"e":-2.98},{"b":"w4","k":8.88,"e":-2.91},{"b":"w4","k":9.22,"e":-2.9},{"b":"w4","k":9.54,"e":-2.95},{"b":"w4","k":9.88,"e":-3.1},{"b":"w4","k":10.21,"e":-3.3},{"b":"w4","k":10.54,"e":-3.38},{"b":"w4","k":10.88,"e":-3.42},{"b":"w4","k":11.14,"e":-3.38},{"b":"w4","k":11.33,"e":-3.47},
{"b":"w4b","k":2.97,"e":-4.05},{"b":"w4b","k":3.24,"e":-3.99},{"b":"w4b","k":3.58,"e":-3.84},{"b":"w4b","k":3.84,"e":-3.79},{"b":"w4b","k":4.08,"e":-3.87},{"b":"w4b","k":4.34,"e":-4.01},{"b":"w4b","k":4.51,"e":-3.85},{"b":"w4b","k":4.68,"e":-3.65},{"b":"w4b","k":4.84,"e":-3.76},{"b":"w4b","k":5.07,"e":-3.83},{"b":"w4b","k":5.58,"e":-3.77},{"b":"w4b","k":5.91,"e":-3.62},{"b":"w4b","k":6.26,"e":-3.48},{"b":"w4b","k":6.54,"e":-3.46},{"b":"w4b","k":6.71,"e":-3.5},{"b":"w4b","k":7.04,"e":-3.38},{"b":"w4b","k":7.38,"e":-3.21},{"b":"w4b","k":7.68,"e":-3.11},{"b":"w4b","k":7.74,"e":-3.1},{"b":"w4b","k":8.04,"e":-3.09},{"b":"w4b","k":8.21,"e":-3.15},{"b":"w4b","k":8.32,"e":-3.4},{"b":"w4b","k":8.36,"e":-3.45},{"b":"w4b","k":8.48,"e":-3.2},{"b":"w4b","k":8.71,"e":-3.0},{"b":"w4b","k":9.22,"e":-2.9},{"b":"w4b","k":9.54,"e":-2.94},{"b":"w4b","k":9.88,"e":-3.08},{"b":"w4b","k":10.21,"e":-3.28},{"b":"w4b","k":10.54,"e":-3.3},{"b":"w4b","k":10.88,"e":-3.2},{"b":"w4b","k":11.14,"e":-3.12},{"b":"w4b","k":11.33,"e":-3.2},
{"b":"w5","k":0,"e":-4.14},{"b":"w5","k":0.91,"e":-4.12},{"b":"w5","k":1.49,"e":-4.1},{"b":"w5","k":1.91,"e":-4.06},{"b":"w5","k":2.24,"e":-4.11},{"b":"w5","k":2.58,"e":-4.21},{"b":"w5","k":2.97,"e":-4.23},{"b":"w5","k":3.24,"e":-4.12},{"b":"w5","k":3.58,"e":-4.07},{"b":"w5","k":4.24,"e":-4.1},{"b":"w5","k":5.07,"e":-4.14},{"b":"w5","k":5.58,"e":-4.19},{"b":"w5","k":6.26,"e":-4.21},{"b":"w5","k":6.54,"e":-4.28},{"b":"w5","k":6.78,"e":-4.37},{"b":"w5","k":7.1,"e":-4.38},{"b":"w5","k":7.18,"e":-4.38},{"b":"w5","k":7.38,"e":-4.63},{"b":"w5","k":7.68,"e":-5.0},{"b":"w5","k":7.72,"e":-5.1},
{"b":"w6","k":0,"e":-4.15},{"b":"w6","k":0.58,"e":-4.17},{"b":"w6","k":0.91,"e":-4.38},{"b":"w6","k":1.24,"e":-4.63},{"b":"w6","k":1.49,"e":-4.75},{"b":"w6","k":1.58,"e":-4.79},{"b":"w6","k":1.91,"e":-4.46},{"b":"w6","k":2.58,"e":-4.28},{"b":"w6","k":2.97,"e":-4.23},{"b":"w6","k":3.11,"e":-4.28},{"b":"w6","k":3.24,"e":-4.15},{"b":"w6","k":3.58,"e":-4.08},{"b":"w6","k":4.24,"e":-4.11},{"b":"w6","k":5.07,"e":-4.15},{"b":"w6","k":5.58,"e":-4.2},{"b":"w6","k":6.26,"e":-4.22},{"b":"w6","k":6.54,"e":-4.29},{"b":"w6","k":6.78,"e":-4.36},{"b":"w6","k":7.1,"e":-4.37},{"b":"w6","k":7.18,"e":-4.36},{"b":"w6","k":7.21,"e":-4.28},{"b":"w6","k":7.71,"e":-4.2},{"b":"w6","k":7.74,"e":-4.2},{"b":"w6","k":8.04,"e":-4.17},{"b":"w6","k":8.34,"e":-4.19},{"b":"w6","k":8.71,"e":-4.33},{"b":"w6","k":9.04,"e":-4.46},{"b":"w6","k":9.22,"e":-4.47},{"b":"w6","k":9.54,"e":-4.43},{"b":"w6","k":10.21,"e":-4.31},{"b":"w6","k":10.88,"e":-4.25},{"b":"w6","k":11.33,"e":-4.21},
{"b":"w7","k":0,"e":-4.15},{"b":"w7","k":0.71,"e":-4.2},{"b":"w7","k":1.01,"e":-4.45},{"b":"w7","k":1.21,"e":-4.75},{"b":"w7","k":1.34,"e":-5.0},{"b":"w7","k":1.4,"e":-5.1},
{"b":"w8","k":0,"e":-3.99},{"b":"w8","k":0.11,"e":-3.94},{"b":"w8","k":0.21,"e":-3.93},{"b":"w8","k":0.58,"e":-4.04},{"b":"w8","k":0.91,"e":-4.21},{"b":"w8","k":1.24,"e":-4.41},{"b":"w8","k":1.49,"e":-4.72},{"b":"w8","k":1.74,"e":-4.5},{"b":"w8","k":2.24,"e":-4.33},{"b":"w8","k":2.58,"e":-4.27},{"b":"w8","k":2.97,"e":-4.25},{"b":"w8","k":3.11,"e":-4.3},{"b":"w8","k":3.24,"e":-4.41},{"b":"w8","k":3.51,"e":-4.47},{"b":"w8","k":3.91,"e":-4.19},{"b":"w8","k":4.24,"e":-4.13},{"b":"w8","k":4.61,"e":-4.1},{"b":"w8","k":5.07,"e":-4.13},{"b":"w8","k":5.58,"e":-4.18},{"b":"w8","k":6.26,"e":-4.2},
{"b":"w9","k":1.64,"e":-5.1},{"b":"w9","k":1.68,"e":-5.0},{"b":"w9","k":1.91,"e":-4.63},{"b":"w9","k":2.24,"e":-4.53},{"b":"w9","k":2.91,"e":-4.48},{"b":"w9","k":2.97,"e":-4.47},{"b":"w9","k":3.24,"e":-4.5},{"b":"w9","k":3.51,"e":-4.55},{"b":"w9","k":3.84,"e":-4.68},{"b":"w9","k":3.91,"e":-4.7},{"b":"w9","k":4.01,"e":-4.68},{"b":"w9","k":4.16,"e":-4.5},{"b":"w9","k":4.31,"e":-4.2},{"b":"w9","k":4.41,"e":-4.12},{"b":"w9","k":4.58,"e":-4.02},{"b":"w9","k":4.91,"e":-3.94},{"b":"w9","k":5.07,"e":-3.99},{"b":"w9","k":5.24,"e":-3.97},{"b":"w9","k":5.58,"e":-3.87},{"b":"w9","k":5.91,"e":-3.7},{"b":"w9","k":6.26,"e":-3.56},{"b":"w9","k":6.54,"e":-3.9},{"b":"w9","k":6.81,"e":-4.36},{"b":"w9","k":7.14,"e":-4.97},{"b":"w9","k":7.17,"e":-5.1},
{"b":"w9b","k":1.74,"e":-5.1},{"b":"w9b","k":1.78,"e":-5.0},{"b":"w9b","k":1.98,"e":-4.68},{"b":"w9b","k":2.24,"e":-4.56},{"b":"w9b","k":2.91,"e":-4.45},{"b":"w9b","k":2.97,"e":-4.44},{"b":"w9b","k":3.24,"e":-4.53},{"b":"w9b","k":3.51,"e":-4.6},{"b":"w9b","k":3.84,"e":-4.72},{"b":"w9b","k":3.94,"e":-4.73},{"b":"w9b","k":4.04,"e":-4.66},{"b":"w9b","k":4.18,"e":-4.45},{"b":"w9b","k":4.31,"e":-4.17},{"b":"w9b","k":4.58,"e":-4.04},{"b":"w9b","k":4.91,"e":-3.96},{"b":"w9b","k":5.07,"e":-4.0},{"b":"w9b","k":5.24,"e":-3.99},{"b":"w9b","k":5.58,"e":-3.9},{"b":"w9b","k":5.91,"e":-3.74},{"b":"w9b","k":6.26,"e":-3.58},{"b":"w9b","k":6.51,"e":-3.88},{"b":"w9b","k":6.78,"e":-4.3},{"b":"w9b","k":7.1,"e":-4.95},{"b":"w9b","k":7.14,"e":-5.1},
{"b":"zr1","k":6.26,"e":-3.47},{"b":"zr1","k":6.45,"e":-3.6},{"b":"zr1","k":6.66,"e":-3.9},{"b":"zr1","k":6.81,"e":-4.2},{"b":"zr1","k":6.94,"e":-4.32},{"b":"zr1","k":7.14,"e":-4.37},{"b":"zr1","k":7.2,"e":-4.42},{"b":"zr1","k":7.4,"e":-4.68},{"b":"zr1","k":7.64,"e":-5.0},{"b":"zr1","k":7.68,"e":-5.1},
{"b":"g1","k":4.64,"e":-5.1},{"b":"g1","k":4.68,"e":-5.0},{"b":"g1","k":4.85,"e":-4.85},{"b":"g1","k":5.07,"e":-4.78},{"b":"g1","k":5.24,"e":-4.72},{"b":"g1","k":5.58,"e":-4.53},{"b":"g1","k":5.91,"e":-4.62},{"b":"g1","k":6.26,"e":-4.7},{"b":"g1","k":6.48,"e":-4.66},{"b":"g1","k":6.74,"e":-4.64},{"b":"g1","k":6.94,"e":-4.7},{"b":"g1","k":7.21,"e":-4.97},{"b":"g1","k":7.25,"e":-5.1},
{"b":"g2","k":4.74,"e":-5.1},{"b":"g2","k":4.78,"e":-5.0},{"b":"g2","k":4.92,"e":-4.86},{"b":"g2","k":5.07,"e":-4.79},{"b":"g2","k":5.24,"e":-4.73},{"b":"g2","k":5.58,"e":-4.55},{"b":"g2","k":5.91,"e":-4.63},{"b":"g2","k":6.26,"e":-4.71},{"b":"g2","k":6.5,"e":-4.68},{"b":"g2","k":6.74,"e":-4.66},{"b":"g2","k":6.9,"e":-4.72},{"b":"g2","k":7.14,"e":-4.97},{"b":"g2","k":7.18,"e":-5.1},
{"b":"g3","k":0,"e":-4.77},{"b":"g3","k":0.11,"e":-4.8},{"b":"g3","k":0.29,"e":-4.95},{"b":"g3","k":0.34,"e":-5.0},{"b":"g3","k":0.38,"e":-5.1},
{"b":"g4","k":0,"e":-4.78},{"b":"g4","k":0.08,"e":-4.82},{"b":"g4","k":0.24,"e":-4.96},{"b":"g4","k":0.28,"e":-5.0},{"b":"g4","k":0.32,"e":-5.1},
{"b":"r1","k":7.78,"e":-5.1},{"b":"r1","k":7.81,"e":-5.0},{"b":"r1","k":7.93,"e":-4.6},{"b":"r1","k":8.04,"e":-4.26},{"b":"r1","k":8.18,"e":-3.8},{"b":"r1","k":8.28,"e":-3.55},{"b":"r1","k":8.34,"e":-3.5},{"b":"r1","k":8.41,"e":-3.62},{"b":"r1","k":8.54,"e":-3.9},{"b":"r1","k":8.71,"e":-4.3},{"b":"r1","k":8.88,"e":-4.63},{"b":"r1","k":9.0,"e":-4.9},{"b":"r1","k":9.04,"e":-5.0},{"b":"r1","k":9.07,"e":-5.1},
{"b":"r2","k":7.82,"e":-5.1},{"b":"r2","k":7.85,"e":-5.0},{"b":"r2","k":7.96,"e":-4.62},{"b":"r2","k":8.06,"e":-4.3},{"b":"r2","k":8.2,"e":-3.85},{"b":"r2","k":8.29,"e":-3.62},{"b":"r2","k":8.34,"e":-3.57},{"b":"r2","k":8.41,"e":-3.7},{"b":"r2","k":8.5,"e":-3.92},{"b":"r2","k":8.66,"e":-4.3},{"b":"r2","k":8.8,"e":-4.63},{"b":"r2","k":8.92,"e":-4.9},{"b":"r2","k":8.95,"e":-5.0},{"b":"r2","k":8.98,"e":-5.1},
{"b":"r3","k":7.74,"e":-5.1},{"b":"r3","k":7.76,"e":-5.0},{"b":"r3","k":7.9,"e":-4.6},{"b":"r3","k":8.04,"e":-4.21},{"b":"r3","k":8.2,"e":-4.16},{"b":"r3","k":8.34,"e":-4.15},{"b":"r3","k":8.54,"e":-4.2},{"b":"r3","k":8.88,"e":-4.38},{"b":"r3","k":9.22,"e":-4.47},
{"b":"r4","k":7.91,"e":-5.1},{"b":"r4","k":7.94,"e":-5.0},{"b":"r4","k":8.05,"e":-4.82},{"b":"r4","k":8.21,"e":-4.69},{"b":"r4","k":8.54,"e":-4.53},{"b":"r4","k":8.88,"e":-4.5},{"b":"r4","k":9.22,"e":-4.51},{"b":"r4","k":9.54,"e":-4.45},{"b":"r4","k":10.21,"e":-4.33},{"b":"r4","k":10.88,"e":-4.26},{"b":"r4","k":11.33,"e":-4.21},
{"b":"az1","k":9.36,"e":-5.1},{"b":"az1","k":9.41,"e":-4.95},{"b":"az1","k":9.54,"e":-4.55},{"b":"az1","k":9.71,"e":-4.14},{"b":"az1","k":9.9,"e":-3.7},{"b":"az1","k":10.01,"e":-3.5},{"b":"az1","k":10.11,"e":-3.4},{"b":"az1","k":10.25,"e":-3.44},{"b":"az1","k":10.38,"e":-3.5},{"b":"az1","k":10.68,"e":-3.58},{"b":"az1","k":10.98,"e":-3.5},{"b":"az1","k":11.33,"e":-3.47},
{"b":"az2","k":9.47,"e":-5.1},{"b":"az2","k":9.52,"e":-4.95},{"b":"az2","k":9.66,"e":-4.55},{"b":"az2","k":9.81,"e":-4.26},{"b":"az2","k":9.98,"e":-3.85},{"b":"az2","k":10.14,"e":-3.59},{"b":"az2","k":10.3,"e":-3.62},{"b":"az2","k":10.68,"e":-3.7},{"b":"az2","k":10.98,"e":-3.6},{"b":"az2","k":11.33,"e":-3.5},
{"b":"az3","k":10.61,"e":-5.1},{"b":"az3","k":10.64,"e":-5.0},{"b":"az3","k":10.78,"e":-4.6},{"b":"az3","k":10.88,"e":-4.26},{"b":"az3","k":11.08,"e":-3.8},{"b":"az3","k":11.21,"e":-3.62},{"b":"az3","k":11.33,"e":-3.56},
{"b":"az4","k":10.66,"e":-5.1},{"b":"az4","k":10.69,"e":-5.0},{"b":"az4","k":10.83,"e":-4.6},{"b":"az4","k":10.92,"e":-4.3},{"b":"az4","k":11.11,"e":-3.84},{"b":"az4","k":11.24,"e":-3.64},{"b":"az4","k":11.33,"e":-3.58},
{"b":"az5","k":9.38,"e":-5.1},{"b":"az5","k":9.41,"e":-5.0},{"b":"az5","k":9.5,"e":-4.82},{"b":"az5","k":9.64,"e":-4.7},{"b":"az5","k":10.04,"e":-4.65},{"b":"az5","k":10.71,"e":-4.62},{"b":"az5","k":11.0,"e":-4.64},{"b":"az5","k":11.33,"e":-4.7},
{"b":"az6","k":9.5,"e":-5.1},{"b":"az6","k":9.54,"e":-5.0},{"b":"az6","k":9.62,"e":-4.84},{"b":"az6","k":9.76,"e":-4.72},{"b":"az6","k":10.1,"e":-4.68},{"b":"az6","k":10.71,"e":-4.63},{"b":"az6","k":11.0,"e":-4.66},{"b":"az6","k":11.33,"e":-4.71}
]},
"layer":[
{"data":{"name":"sym"},"mark":{"type":"rule","color":"#3a3a3a","strokeDash":[2,3],"strokeWidth":1},
 "encoding":{"x":{"field":"k","type":"quantitative","scale":{"domain":[0,13.68],"nice":false,"zero":false},
  "axis":{"orient":"bottom","values":[0,1.49,2.97,5.07,6.26,7.74,9.22,11.33,12.51,13.68],
  "labelExpr":"datum.value < 0.5 ? 'Gamma' : datum.value < 2 ? 'X' : datum.value < 4 ? 'M' : datum.value < 5.5 ? 'Gamma' : datum.value < 7 ? 'Z' : datum.value < 8.5 ? 'R' : datum.value < 10 ? 'A' : datum.value < 12 ? 'Z\u00a0\u00a0\u2009X' : datum.value < 13 ? 'R\u00a0\u00a0\u2009M' : 'A'",
  "title":null,"grid":false,"domain":false,"tickSize":-12,"tickWidth":1.5,"tickColor":"black","labelFont":"Liberation Sans","labelFontSize":28,"labelColor":"black","labelPadding":29,"labelOverlap":false,"labelFlush":false,"labelBound":false}}}},
{"data":{"name":"jumps"},"mark":{"type":"rule","color":"black","strokeWidth":1.3},
 "encoding":{"x":{"field":"k","type":"quantitative","scale":{"domain":[0,13.68],"nice":false,"zero":false},"axis":null},
  "y":{"field":"y","type":"quantitative","scale":{"domain":[-5,2],"nice":false,"zero":false},"axis":null},"y2":{"field":"y2"}}},
{"data":{"name":"bands"},"mark":{"type":"line","color":"black","strokeWidth":1.3,"interpolate":"monotone","clip":true},
 "encoding":{"x":{"field":"k","type":"quantitative","scale":{"domain":[0,13.68],"nice":false,"zero":false},
  "axis":{"orient":"top","values":[1.49,2.97,5.07,6.26,7.74,9.22,11.33,12.51],"labels":false,"title":null,"grid":false,"domain":false,"tickSize":-12,"tickWidth":1.5,"tickColor":"black"}},
  "y":{"field":"e","type":"quantitative","scale":{"domain":[-5,2],"nice":false,"zero":false},
  "axis":{"orient":"right","values":[-4,-3,-2,-1,0,1],"labels":false,"title":null,"grid":false,"domain":false,"tickSize":-12,"tickWidth":1.5,"tickColor":"black"}},
  "detail":{"field":"b"}}},
{"data":{"values":[{"e":0}]},"mark":{"type":"rule","color":"#ff0000","strokeDash":[11,5],"strokeWidth":1.3},
 "encoding":{"y":{"field":"e","type":"quantitative","scale":{"domain":[-5,2],"nice":false,"zero":false},
  "axis":{"orient":"left","values":[-5,-4,-3,-2,-1,0,1,2],"labelExpr":"'' + datum.value","title":null,"grid":false,"domain":false,"tickSize":-12,"tickWidth":1.5,"tickColor":"black","labelFont":"Liberation Sans","labelFontSize":28,"labelColor":"black","labelPadding":29,"labelOverlap":false,"labelFlush":false,"labelBound":false}}}}
],
"resolve":{"axis":{"x":"independent","y":"independent"}}
}
